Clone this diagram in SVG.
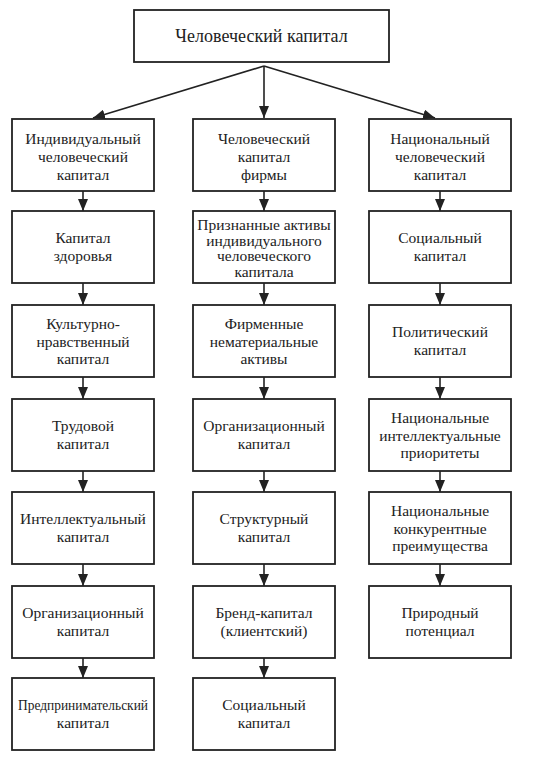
<svg xmlns="http://www.w3.org/2000/svg" width="550" height="760" viewBox="0 0 550 760" font-family="Liberation Serif, Times New Roman, serif">
<style>
rect.b{fill:#fff;stroke:#222;stroke-width:1.8}
text{font-size:15.5px;fill:#222;text-anchor:middle}
text.t{font-size:18px}
.c line{stroke:#222;stroke-width:1.6}
</style>
<defs>
<marker id="ah" markerUnits="userSpaceOnUse" markerWidth="12" markerHeight="10" refX="12" refY="5" orient="auto">
<path d="M0,0 L12,5 L0,10 z" fill="#222"/>
</marker>
</defs>
<rect width="550" height="760" fill="#fff"/>
<g class="c">
<line x1="264" y1="66" x2="93" y2="118" marker-end="url(#ah)"/>
<line x1="264" y1="66" x2="264" y2="118" marker-end="url(#ah)"/>
<line x1="264" y1="66" x2="435" y2="118" marker-end="url(#ah)"/>
<line x1="83" y1="191" x2="83" y2="211" marker-end="url(#ah)"/>
<line x1="83" y1="283" x2="83" y2="305" marker-end="url(#ah)"/>
<line x1="83" y1="377" x2="83" y2="399" marker-end="url(#ah)"/>
<line x1="83" y1="471" x2="83" y2="492" marker-end="url(#ah)"/>
<line x1="83" y1="564" x2="83" y2="586" marker-end="url(#ah)"/>
<line x1="83" y1="658" x2="83" y2="678" marker-end="url(#ah)"/>
<line x1="264" y1="191" x2="264" y2="211" marker-end="url(#ah)"/>
<line x1="264" y1="283" x2="264" y2="305" marker-end="url(#ah)"/>
<line x1="264" y1="377" x2="264" y2="399" marker-end="url(#ah)"/>
<line x1="264" y1="471" x2="264" y2="492" marker-end="url(#ah)"/>
<line x1="264" y1="564" x2="264" y2="586" marker-end="url(#ah)"/>
<line x1="264" y1="658" x2="264" y2="678" marker-end="url(#ah)"/>
<line x1="440" y1="191" x2="440" y2="211" marker-end="url(#ah)"/>
<line x1="440" y1="283" x2="440" y2="305" marker-end="url(#ah)"/>
<line x1="440" y1="377" x2="440" y2="399" marker-end="url(#ah)"/>
<line x1="440" y1="471" x2="440" y2="492" marker-end="url(#ah)"/>
<line x1="440" y1="564" x2="440" y2="586" marker-end="url(#ah)"/>
</g>
<g id="root"><rect class="b" x="134" y="10" width="255" height="52"/><text class="t" x="261.5" y="42">Человеческий капитал</text></g>

<g id="c1r1"><rect class="b" x="12" y="119" width="142" height="72"/><text x="83" y="144">Индивидуальный</text><text x="83" y="162">человеческий</text><text x="83" y="180">капитал</text></g>
<g id="c1r2"><rect class="b" x="12" y="211" width="142" height="72"/><text x="83" y="243">Капитал</text><text x="83" y="261">здоровья</text></g>
<g id="c1r3"><rect class="b" x="12" y="305" width="142" height="72"/><text x="83" y="329">Культурно-</text><text x="83" y="346.5">нравственный</text><text x="83" y="364">капитал</text></g>
<g id="c1r4"><rect class="b" x="12" y="399" width="142" height="72"/><text x="83" y="431">Трудовой</text><text x="83" y="449">капитал</text></g>
<g id="c1r5"><rect class="b" x="12" y="492" width="142" height="72"/><text x="83" y="524">Интеллектуальный</text><text x="83" y="542">капитал</text></g>
<g id="c1r6"><rect class="b" x="12" y="586" width="142" height="72"/><text x="83" y="618">Организационный</text><text x="83" y="636">капитал</text></g>
<g id="c1r7"><rect class="b" x="12" y="678" width="142" height="72"/><text x="83" y="710" textLength="130" lengthAdjust="spacingAndGlyphs">Предпринимательский</text><text x="83" y="728">капитал</text></g>

<g id="c2r1"><rect class="b" x="193" y="119" width="142" height="72"/><text x="264" y="144">Человеческий</text><text x="264" y="162">капитал</text><text x="264" y="180">фирмы</text></g>
<g id="c2r2"><rect class="b" x="193" y="211" width="142" height="72"/><text x="264" y="230">Признанные активы</text><text x="264" y="245.5">индивидуального</text><text x="264" y="261">человеческого</text><text x="264" y="276.5">капитала</text></g>
<g id="c2r3"><rect class="b" x="193" y="305" width="142" height="72"/><text x="264" y="329">Фирменные</text><text x="264" y="346.5">нематериальные</text><text x="264" y="364">активы</text></g>
<g id="c2r4"><rect class="b" x="193" y="399" width="142" height="72"/><text x="264" y="431">Организационный</text><text x="264" y="449">капитал</text></g>
<g id="c2r5"><rect class="b" x="193" y="492" width="142" height="72"/><text x="264" y="524">Структурный</text><text x="264" y="542">капитал</text></g>
<g id="c2r6"><rect class="b" x="193" y="586" width="142" height="72"/><text x="264" y="618">Бренд-капитал</text><text x="264" y="636">(клиентский)</text></g>
<g id="c2r7"><rect class="b" x="193" y="678" width="142" height="72"/><text x="264" y="710">Социальный</text><text x="264" y="728">капитал</text></g>

<g id="c3r1"><rect class="b" x="369" y="119" width="142" height="72"/><text x="440" y="144">Национальный</text><text x="440" y="162">человеческий</text><text x="440" y="180">капитал</text></g>
<g id="c3r2"><rect class="b" x="369" y="211" width="142" height="72"/><text x="440" y="243">Социальный</text><text x="440" y="261">капитал</text></g>
<g id="c3r3"><rect class="b" x="369" y="305" width="142" height="72"/><text x="440" y="337">Политический</text><text x="440" y="355">капитал</text></g>
<g id="c3r4"><rect class="b" x="369" y="399" width="142" height="72"/><text x="440" y="423">Национальные</text><text x="440" y="440.5">интеллектуальные</text><text x="440" y="458">приоритеты</text></g>
<g id="c3r5"><rect class="b" x="369" y="492" width="142" height="72"/><text x="440" y="516">Национальные</text><text x="440" y="533.5">конкурентные</text><text x="440" y="551">преимущества</text></g>
<g id="c3r6"><rect class="b" x="369" y="586" width="142" height="72"/><text x="440" y="618">Природный</text><text x="440" y="636">потенциал</text></g>
</svg>
